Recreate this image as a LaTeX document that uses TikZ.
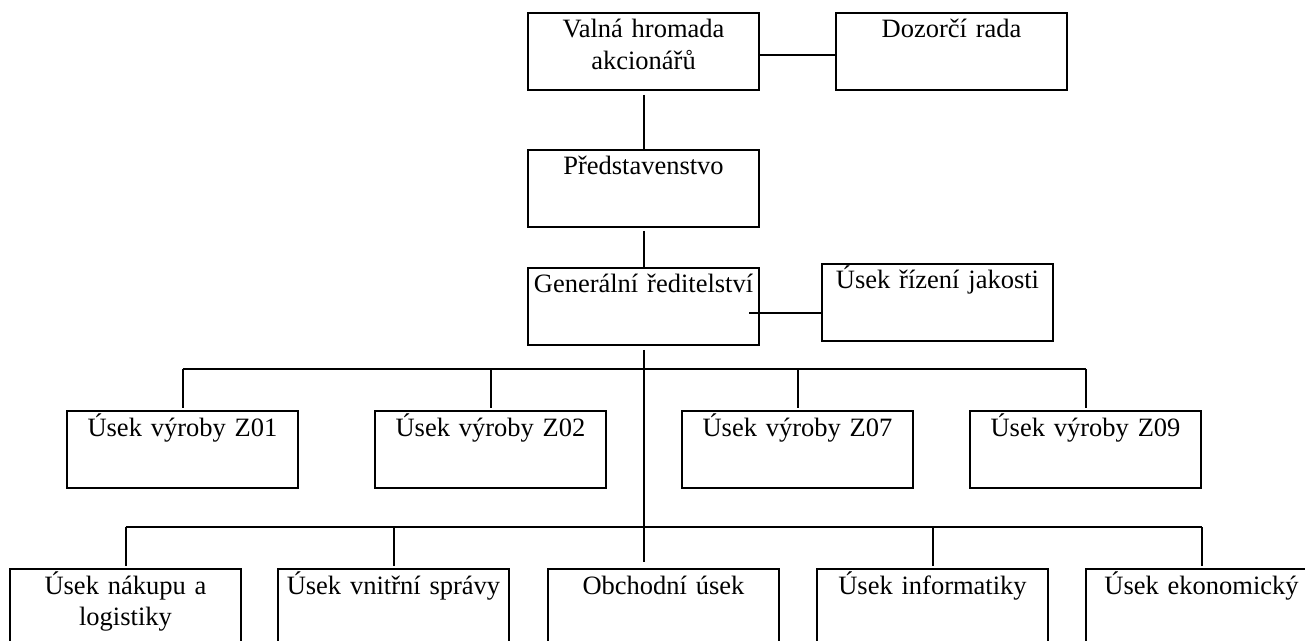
\documentclass[tikz,border=0pt]{standalone}
\usepackage{fontspec}
\setmainfont{Liberation Serif}
\usetikzlibrary{calc}

\begin{document}
\begin{tikzpicture}[x=0.5pt, y=-0.5pt, line width=1pt,
  usek/.style={draw, below right, inner sep=0pt, outer sep=0pt, text width=115.5pt, align=center,
    text height=12.5pt, text depth=26pt, font=\fontsize{13.25}{15.8}\selectfont}]

\clip (0,0) rectangle (1305,641);

\node[usek] (val) at (528, 13) {Valná hromada\\akcionářů};
\node[usek] (dozor) at (836, 13) {Dozorčí rada};
\node[usek] (pred) at (528, 150) {Představenstvo};
\node[usek] (gen) at (528, 268) {Generální ředitelství};
\node[usek] (jakost) at (822, 264) {Úsek řízení jakosti};

\node[usek] (z01) at (67, 411) {Úsek výroby Z01};
\node[usek] (z02) at (375, 411) {Úsek výroby Z02};
\node[usek] (z07) at (682, 411) {Úsek výroby Z07};
\node[usek] (z09) at (970, 411) {Úsek výroby Z09};

\node[usek] (nakup) at (10, 569) {Úsek nákupu a\\logistiky};
\node[usek] (vnitr) at (278, 569) {Úsek vnitřní správy};
\node[usek] (obch) at (548, 569) {Obchodní úsek};
\node[usek] (info) at (817, 569) {Úsek informatiky};
\node[usek] (ekon) at (1086, 569) {Úsek ekonomický};

\draw ([yshift=-2pt]val.east) -- ([yshift=-2pt]val.east -| dozor.west);
\draw[shorten <=2.5pt] (val.south) -- (pred.north);
\draw[shorten <=2pt] (pred.south) -- (gen.north);
\draw ([xshift=-5pt, yshift=-3.5pt]gen.east) coordinate (a) -- (a -| jakost.west);
\draw[shorten <=2.5pt, shorten >=3.5pt] (gen.south) -- (gen.south |- obch.north);

\coordinate (bus1) at (644, 369);
\coordinate (bus2) at (644, 527);

\draw (bus1 -| z01.north) -- (bus1 -| z09.north);
\draw[shorten >=1.5pt] (bus1 -| z01.north) -- (z01.north);
\draw[shorten >=1.5pt] (bus1 -| z02.north) -- (z02.north);
\draw[shorten >=1.5pt] (bus1 -| z07.north) -- (z07.north);
\draw[shorten >=1.5pt] (bus1 -| z09.north) -- (z09.north);

\draw (bus2 -| nakup.north) -- (bus2 -| ekon.north);
\draw[shorten >=1.5pt] (bus2 -| nakup.north) -- (nakup.north);
\draw[shorten >=1.5pt] (bus2 -| vnitr.north) -- (vnitr.north);
\draw[shorten >=1.5pt] (bus2 -| info.north) -- (info.north);
\draw[shorten >=1.5pt] (bus2 -| ekon.north) -- (ekon.north);

\end{tikzpicture}
\end{document}
